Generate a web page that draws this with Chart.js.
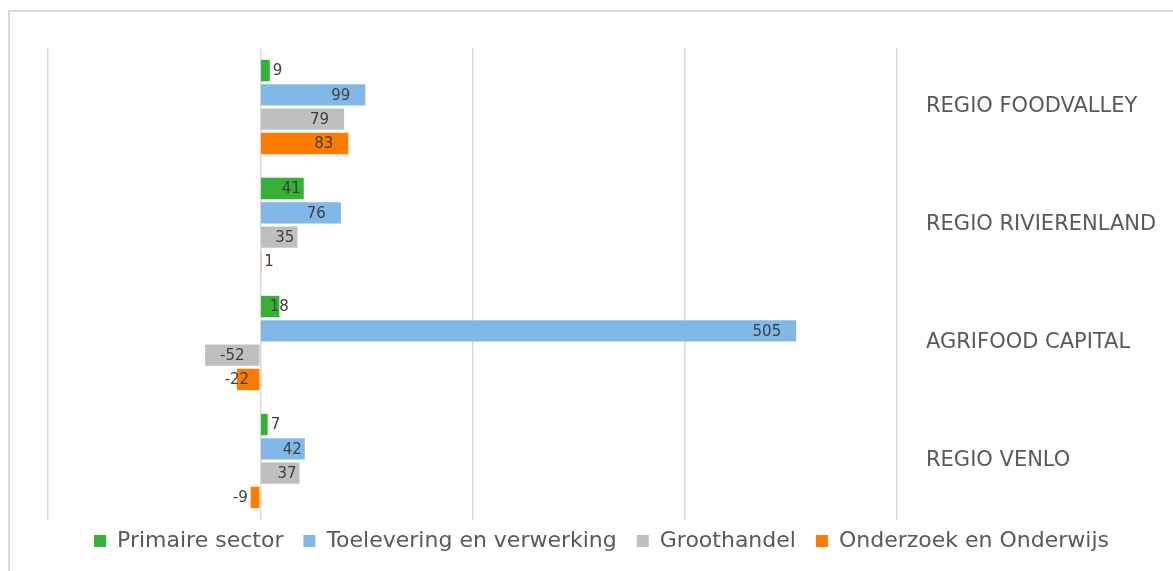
<!DOCTYPE html>
<html>
<head>
<meta charset="utf-8">
<script src="https://cdn.jsdelivr.net/npm/chart.js@4.4.1/dist/chart.umd.min.js"></script>
<style>
  html, body { margin: 0; padding: 0; background: #fff; overflow: hidden; }
  #frame { position: absolute; left: 8px; top: 10px; width: 1200px; height: 600px; border: 2px solid #d9d9d9; }
  #wrap { position: absolute; left: 0; top: 0; width: 1173px; height: 571px; }
</style>
</head>
<body>
<div id="frame"></div>
<div id="wrap"><canvas id="regioChart"></canvas></div>
<script>
// Data
const regions = ['REGIO FOODVALLEY', 'REGIO RIVIERENLAND', 'AGRIFOOD CAPITAL', 'REGIO VENLO'];
const primaire = [9, 41, 18, 7];
const toelevering = [99, 76, 505, 42];
const groothandel = [79, 35, -52, 37];
const onderzoek = [83, 1, -22, -9];
const xTicks = [-200, 0, 200, 400, 600];

const FONT = "'DejaVu Sans', sans-serif";

// Value labels drawn next to / inside the bar ends
const barLabels = {
    id: 'barLabels',
    afterDatasetsDraw(chart) {
        const ctx = chart.ctx;
        ctx.save();
        ctx.font = '15px ' + FONT;
        ctx.fillStyle = '#404040';
        ctx.textBaseline = 'middle';
        chart.data.datasets.forEach((ds, i) => {
            const meta = chart.getDatasetMeta(i);
            meta.data.forEach((bar, j) => {
                const v = ds.data[j];
                const text = String(v);
                const w = ctx.measureText(text).width;
                const len = Math.abs(bar.x - bar.base);
                const sign = v >= 0 ? 1 : -1;
                let x;
                if (Math.abs(v) < 15) {
                    ctx.textAlign = v >= 0 ? 'left' : 'right';
                    x = bar.x + sign * 3;
                } else if (w + 4 > len) {
                    ctx.textAlign = 'center';
                    x = bar.x;
                } else {
                    ctx.textAlign = v >= 0 ? 'right' : 'left';
                    const pad = len > w + 28 ? 15 : 3;
                    x = bar.x - sign * pad;
                }
                ctx.fillText(text, x, bar.y + 1);
            });
        });
        ctx.restore();
    }
};

// pull the legend a bit closer to the plot
const legendShift = {
    id: 'legendShift',
    afterLayout(chart) {
        if (chart.legend) {
            chart.legend.top -= 10;
            chart.legend.bottom -= 10;
        }
    }
};

const ctx = document.getElementById('regioChart');
new Chart(ctx, {
    type: 'bar',
    data: {
        labels: regions,
        datasets: [
            { label: 'Primaire sector', data: primaire, backgroundColor: '#37b037' },
            { label: 'Toelevering en verwerking', data: toelevering, backgroundColor: '#82b8e7' },
            { label: 'Groothandel', data: groothandel, backgroundColor: '#bfbfbf' },
            { label: 'Onderzoek en Onderwijs', data: onderzoek, backgroundColor: '#ff7b00' }
        ]
    },
    options: {
        indexAxis: 'y',
        responsive: true,
        maintainAspectRatio: false,
        animation: false,
        categoryPercentage: 0.824,
        barPercentage: 0.88,
        layout: { padding: { left: 48, top: 48, right: 18, bottom: -1 } },
        plugins: {
            legend: {
                position: 'bottom',
                labels: {
                    color: '#595959',
                    font: { family: FONT, size: 22 },
                    boxWidth: 12,
                    boxHeight: 12,
                    padding: 20
                }
            },
            tooltip: { enabled: false }
        },
        scales: {
            x: {
                min: xTicks[0],
                max: xTicks[xTicks.length - 1],
                afterBuildTicks: scale => { scale.ticks = xTicks.map(v => ({ value: v })); },
                ticks: { display: false },
                grid: { color: '#d9d9d9', lineWidth: 1.5, drawTicks: false },
                border: { display: false }
            },
            y: {
                position: 'right',
                afterFit: scale => { scale.width = 258; },
                ticks: {
                    color: '#595959',
                    font: { family: FONT, size: 21 },
                    padding: 29,
                    crossAlign: 'near'
                },
                grid: { display: false, drawTicks: false },
                border: { display: false }
            }
        }
    },
    plugins: [barLabels, legendShift]
});
</script>
</body>
</html>
